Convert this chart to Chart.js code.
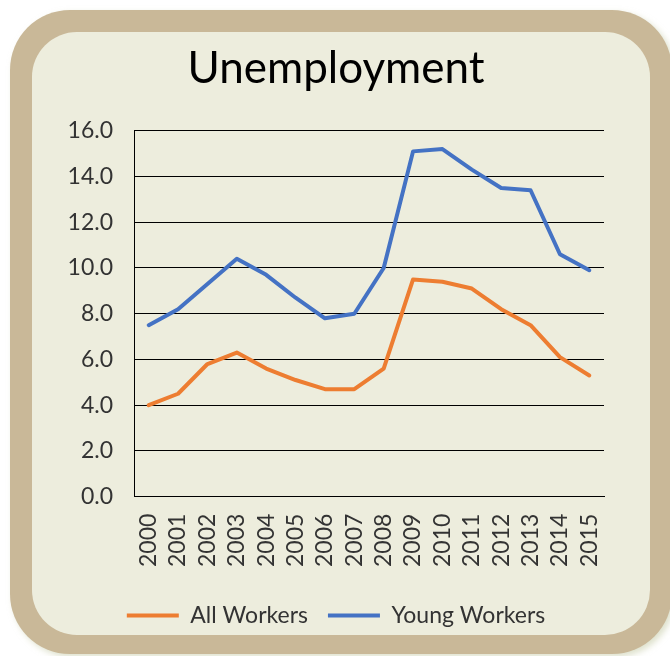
<!DOCTYPE html>
<html>
<head>
<meta charset="utf-8">
<title>Unemployment</title>
<script src="https://cdn.jsdelivr.net/npm/chart.js@4"></script>
<style>
  html, body { margin: 0; padding: 0; background: #ffffff; }
  .frame {
    position: absolute; left: 10px; top: 10px;
    width: 662px; height: 644px;
    background: #c9b898;
    border-radius: 60px;
    box-shadow: 3px 3px 6px rgba(200, 205, 170, 0.6);
  }
  .panel {
    position: absolute; left: 22px; top: 22px;
    width: 618px; height: 603px;
    background: #ededdd;
    border-radius: 45px;
  }
  canvas { position: absolute; left: 32px; top: 32px; }
</style>
</head>
<body>
<div class="frame"><div class="panel"></div></div>
<canvas id="chart" width="618" height="624"></canvas>
<script>
// unemployment rates, percent
const years = ['2000', '2001', '2002', '2003', '2004', '2005', '2006', '2007',
               '2008', '2009', '2010', '2011', '2012', '2013', '2014', '2015'];
const allWorkers = [4.0, 4.5, 5.8, 6.3, 5.6, 5.1, 4.7, 4.7, 5.6, 9.5, 9.4, 9.1, 8.2, 7.5, 6.1, 5.3];
const youngWorkers = [7.5, 8.2, 9.3, 10.4, 9.7, 8.7, 7.8, 8.0, 10.0, 15.1, 15.2, 14.3, 13.5, 13.4, 10.6, 9.9];

const font = 'Lato';
const ctx = document.getElementById('chart').getContext('2d');

new Chart(ctx, {
  type: 'line',
  data: {
    labels: years,
    datasets: [
      {
        label: 'All Workers',
        data: allWorkers,
        borderColor: '#ed7d31',
        backgroundColor: '#ed7d31',
        borderWidth: 4,
        borderCapStyle: 'round',
        borderJoinStyle: 'round',
        pointRadius: 0,
        tension: 0
      },
      {
        label: 'Young Workers',
        data: youngWorkers,
        borderColor: '#4472c4',
        backgroundColor: '#4472c4',
        borderWidth: 4,
        borderCapStyle: 'round',
        borderJoinStyle: 'round',
        pointRadius: 0,
        tension: 0
      }
    ]
  },
  options: {
    responsive: false,
    animation: false,
    layout: { padding: { left: 36, right: 46, top: 0, bottom: 19 } },
    plugins: {
      title: {
        display: true,
        text: 'Unemployment',
        color: '#000',
        font: { family: font, size: 44, weight: 'normal' },
        padding: { top: 10, bottom: 36 }
      },
      legend: {
        position: 'bottom',
        labels: {
          color: '#333',
          font: { family: font, size: 23 },
          usePointStyle: true,
          pointStyle: 'line',
          pointStyleWidth: 52,
          padding: 20
        }
      },
      tooltip: { enabled: false }
    },
    scales: {
      x: {
        offset: true,
        grid: { display: false, drawTicks: false },
        border: { display: true, color: '#000', width: 1 },
        ticks: {
          color: '#333',
          font: { family: font, size: 23 },
          autoSkip: false,
          minRotation: 90,
          maxRotation: 90,
          padding: 17
        }
      },
      y: {
        min: 0,
        max: 16,
        grid: { color: '#000', lineWidth: 1, drawTicks: false },
        border: { display: true, color: '#000', width: 1 },
        ticks: {
          stepSize: 2,
          color: '#333',
          font: { family: font, size: 23 },
          padding: 21,
          callback: v => v.toFixed(1)
        },
        // axis band = widest label + tick padding
        afterFit: scale => { scale.width = 66; }
      }
    }
  }
});
</script>
</body>
</html>
